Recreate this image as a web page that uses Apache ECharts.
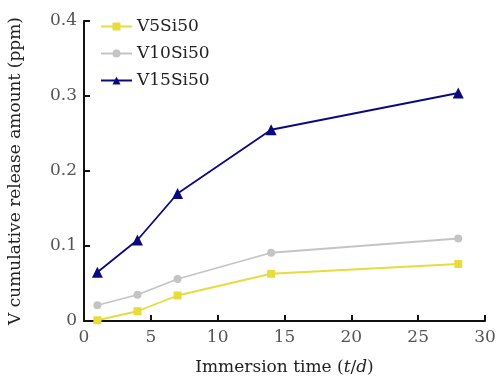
<!DOCTYPE html>
<html><head><meta charset="utf-8">
<script src="https://cdn.jsdelivr.net/npm/echarts@6/dist/echarts.min.js"></script>
<style>html,body{margin:0;padding:0;background:#fff}#c{width:496px;height:378px}</style>
</head><body><div id="c"></div>
<script>
const days = [1, 4, 7, 14, 28];
const v5 = [0.001, 0.013, 0.034, 0.063, 0.076];
const v10 = [0.021, 0.035, 0.056, 0.091, 0.110];
const v15 = [0.065, 0.108, 0.170, 0.255, 0.304];
const seriesNames = ['V5Si50', 'V10Si50', 'V15Si50'];
const font = 'DejaVu Serif';
const pair = a => days.map((d, i) => [d, a[i]]);
const chart = echarts.init(document.getElementById('c'));
chart.setOption({
  animation: false,
  grid: {left: 84, right: 11, top: 21, bottom: 57, outerBoundsMode: 'none', containLabel: false},
  legend: {
    orient: 'vertical', left: 95, top: 13, itemGap: 10, itemWidth: 31, itemHeight: 10,
    textStyle: {fontFamily: font, fontSize: 17, color: '#222'},
    data: seriesNames
  },
  xAxis: {
    type: 'value', min: 0, max: 30, interval: 5,
    name: '{a|Immersion time (}{i|t}{a|/}{i|d}{a|)}', nameLocation: 'middle', nameGap: 38,
    nameTextStyle: {rich: {a: {fontFamily: font, fontSize: 17, color: '#222'}, i: {fontFamily: font, fontSize: 17, fontStyle: 'italic', color: '#222'}}},
    axisLine: {lineStyle: {color: '#111', width: 2}},
    axisTick: {inside: true, length: 6, lineStyle: {color: '#111', width: 2}},
    axisLabel: {fontFamily: font, fontSize: 17, color: '#555', margin: 8},
    splitLine: {show: false}
  },
  yAxis: {
    type: 'value', min: 0, max: 0.4, interval: 0.1,
    name: 'V cumulative release amount (ppm)', nameLocation: 'middle', nameGap: 60,
    nameTextStyle: {fontFamily: font, fontSize: 17, color: '#222'},
    axisLine: {show: true, lineStyle: {color: '#111', width: 2}},
    axisTick: {show: true, inside: true, length: 6, lineStyle: {color: '#111', width: 2}},
    axisLabel: {fontFamily: font, fontSize: 17, color: '#555', margin: 7,
      formatter: v => v === 0 ? '0' : v.toFixed(1)},
    splitLine: {show: false}
  },
  series: [
    {name: seriesNames[0], type: 'line', data: pair(v5), symbol: 'rect', symbolSize: 8,
     itemStyle: {color: '#E6DC3C'}, lineStyle: {color: '#E6DC3C', width: 1.8}},
    {name: seriesNames[1], type: 'line', data: pair(v10), symbol: 'circle', symbolSize: 8,
     itemStyle: {color: '#C4C4C4'}, lineStyle: {color: '#C4C4C4', width: 1.8}},
    {name: seriesNames[2], type: 'line', data: pair(v15), symbol: 'triangle', symbolSize: 11,
     itemStyle: {color: '#0A0A80'}, lineStyle: {color: '#0A0A80', width: 1.8}}
  ]
});
</script></body></html>
